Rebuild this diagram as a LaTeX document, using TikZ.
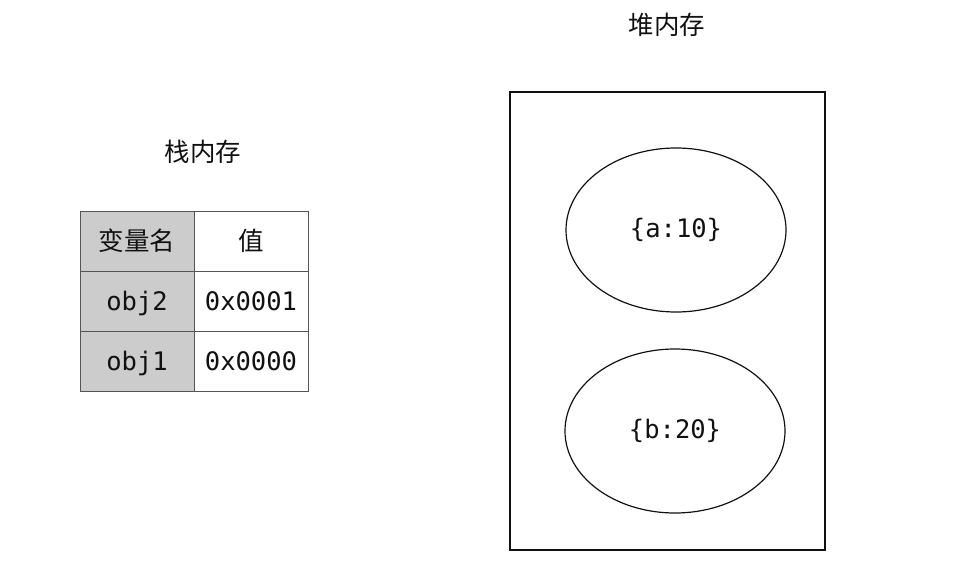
\documentclass[tikz,border=0pt]{standalone}
\usepackage{fontspec}
\setmonofont{DejaVu Sans Mono}
\newfontfamily\cjk{Noto Sans CJK SC}
\usepackage{xcolor}
\usepackage{tikz}
\usetikzlibrary{positioning,shapes.geometric}
\definecolor{cInk}{HTML}{111111}
\definecolor{cCell}{HTML}{CCCCCC}
\definecolor{cRule}{HTML}{555555}
\tikzset{
  cell/.style={draw=cRule,fill=#1,minimum width=114pt,minimum height=60pt,inner sep=0pt,outer sep=0pt,line width=1pt,
    font=\fontsize{25.5}{30}\selectfont\ttfamily,text=cInk,text height=20pt,text depth=2pt},
  cell/.default=white,
  ttl/.style={font=\fontsize{25.5}{30}\selectfont\cjk,text=cInk},
  heapbox/.style={draw=cInk,line width=1.1pt,minimum width=315pt,minimum height=458pt,inner sep=0pt},
  obj/.style={draw=cInk,ellipse,line width=1.2pt,minimum width=220pt,minimum height=164pt,inner sep=0pt,
    font=\fontsize{25.5}{30}\selectfont\ttfamily,text=cInk},
}
\begin{document}
\begin{tikzpicture}[x=1pt,y=-1pt]
  \useasboundingbox (0,0) rectangle (968,572);
  % stack
  \node[ttl] (stackttl) at (203,152) {栈内存};
  \node[cell=cCell] (namehd) at (137,241) {{\cjk 变量名}};
  \node[cell,right=0pt of namehd] (valhd) {{\cjk 值}};
  \node[cell=cCell,below=0pt of namehd] (name2) {obj2};
  \node[cell,right=0pt of name2] (val2) {0x0001};
  \node[cell=cCell,below=0pt of name2] (name1) {obj1};
  \node[cell,right=0pt of name1] (val1) {0x0000};
  % heap
  \node[ttl] (heapttl) at (667,25) {堆内存};
  \node[heapbox] (heap) at (667.5,321) {};
  \node[obj] (objA) at (676,230) {\{a:10\}};
  \node[obj] (objB) at (675,431) {\{b:20\}};
\end{tikzpicture}
\end{document}
